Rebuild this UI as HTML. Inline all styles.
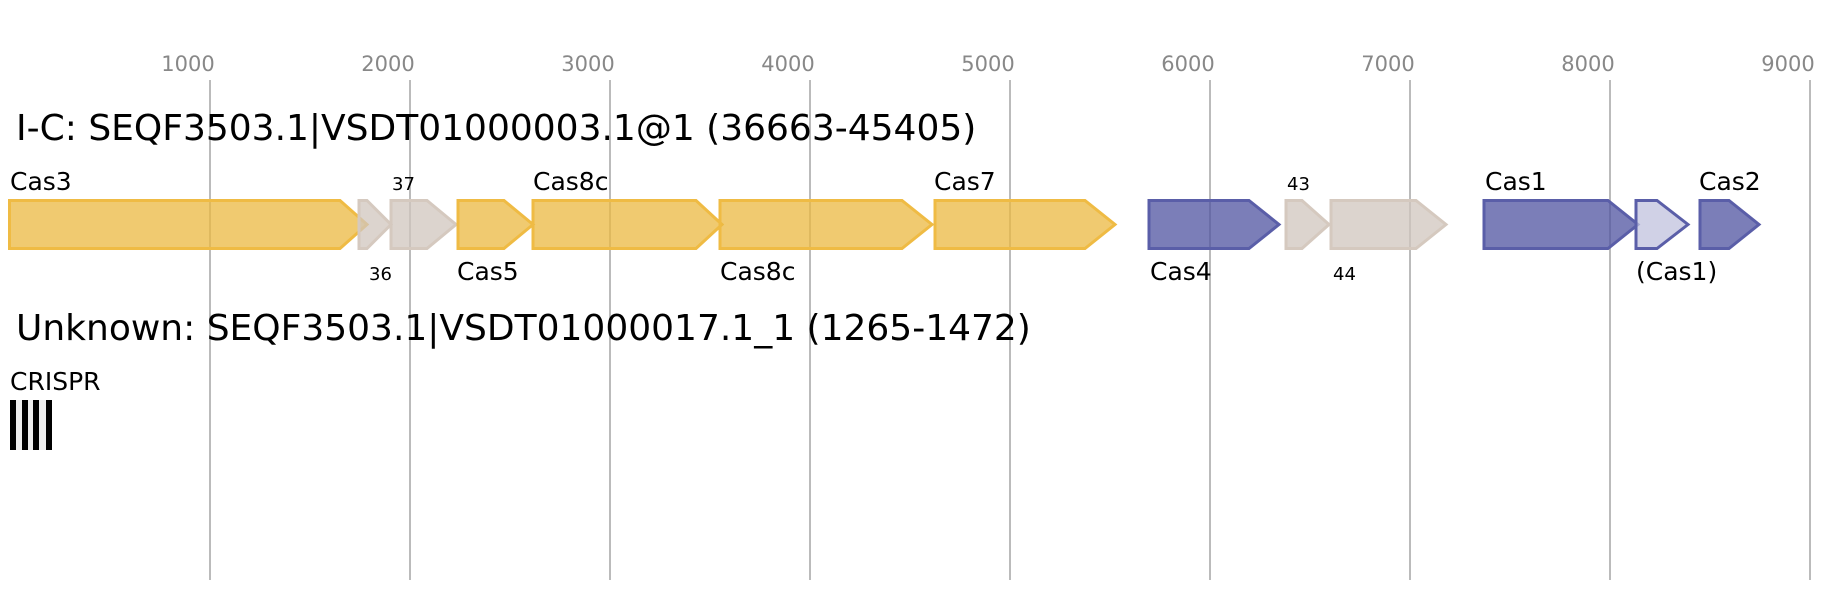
<!DOCTYPE html>
<html><head><meta charset="utf-8"><style>
html,body{margin:0;padding:0;background:#fff;}
svg{display:block;font-family:"DejaVu Sans","Liberation Sans",sans-serif;}
</style></head><body>
<svg width="1848" height="600" viewBox="0 0 1848 600" xmlns="http://www.w3.org/2000/svg">
<g stroke="#bbb" stroke-width="2">
<line x1="210" y1="80" x2="210" y2="580"/><line x1="410" y1="80" x2="410" y2="580"/>
<line x1="610" y1="80" x2="610" y2="580"/><line x1="810" y1="80" x2="810" y2="580"/>
<line x1="1010" y1="80" x2="1010" y2="580"/><line x1="1210" y1="80" x2="1210" y2="580"/>
<line x1="1410" y1="80" x2="1410" y2="580"/><line x1="1610" y1="80" x2="1610" y2="580"/>
<line x1="1810" y1="80" x2="1810" y2="580"/>
</g>
<g fill="#888" font-size="21" text-anchor="middle">
<text x="188" y="71">1000</text><text x="388" y="71">2000</text><text x="588" y="71">3000</text>
<text x="788" y="71">4000</text><text x="988" y="71">5000</text><text x="1188" y="71">6000</text>
<text x="1388" y="71">7000</text><text x="1588" y="71">8000</text><text x="1788" y="71">9000</text>
</g>
<text x="16" y="140" font-size="36">I-C: SEQF3503.1|VSDT01000003.1@1 (36663-45405)</text>
<text x="16" y="340" font-size="36">Unknown: SEQF3503.1|VSDT01000017.1_1 (1265-1472)</text>
<g stroke-width="3" stroke-linejoin="miter" fill-opacity="0.75">
<polygon points="9.5,200.5 340,200.5 367,224.5 340,248.5 9.5,248.5" fill="#ebb840" stroke="#efbb44"/>
<polygon points="359,200.5 367,200.5 391,224.5 367,248.5 359,248.5" fill="#d0c6bd" stroke="#d5c9bf"/>
<polygon points="391,200.5 427,200.5 456,224.5 427,248.5 391,248.5" fill="#d0c6bd" stroke="#d5c9bf"/>
<polygon points="458,200.5 504,200.5 533,224.5 504,248.5 458,248.5" fill="#ebb840" stroke="#efbb44"/>
<polygon points="533,200.5 696,200.5 722,224.5 696,248.5 533,248.5" fill="#ebb840" stroke="#efbb44"/>
<polygon points="720,200.5 902,200.5 932,224.5 902,248.5 720,248.5" fill="#ebb840" stroke="#efbb44"/>
<polygon points="935,200.5 1085,200.5 1115,224.5 1085,248.5 935,248.5" fill="#ebb840" stroke="#efbb44"/>
<polygon points="1149,200.5 1249,200.5 1279,224.5 1249,248.5 1149,248.5" fill="#4f53a0" stroke="#5a5ea8"/>
<polygon points="1286,200.5 1302,200.5 1329,224.5 1302,248.5 1286,248.5" fill="#d0c6bd" stroke="#d5c9bf"/>
<polygon points="1331,200.5 1416,200.5 1446,224.5 1416,248.5 1331,248.5" fill="#d0c6bd" stroke="#d5c9bf"/>
<polygon points="1484,200.5 1608,200.5 1638,224.5 1608,248.5 1484,248.5" fill="#4f53a0" stroke="#5a5ea8"/>
<polygon points="1636,200.5 1657,200.5 1688,224.5 1657,248.5 1636,248.5" fill="#c0c1dd" stroke="#5a5ea8"/>
<polygon points="1700,200.5 1729,200.5 1759,224.5 1729,248.5 1700,248.5" fill="#4f53a0" stroke="#5a5ea8"/>
</g>
<g font-size="25" fill="#000">
<text x="10" y="190">Cas3</text>
<text x="533" y="190">Cas8c</text>
<text x="934" y="190">Cas7</text>
<text x="1485" y="190">Cas1</text>
<text x="1699" y="190">Cas2</text>
<text x="457" y="280">Cas5</text>
<text x="720" y="280">Cas8c</text>
<text x="1150" y="280">Cas4</text>
<text x="1636" y="280">(Cas1)</text>
<text x="10" y="390">CRISPR</text>
</g>
<g font-size="18" fill="#000">
<text x="392" y="190">37</text>
<text x="1287" y="190">43</text>
<text x="369" y="280">36</text>
<text x="1333" y="280">44</text>
</g>
<rect x="10" y="400" width="42" height="50" fill="#eee"/>
<g fill="#000">
<rect x="10" y="400" width="6" height="50"/><rect x="22" y="400" width="6" height="50"/>
<rect x="33" y="400" width="6" height="50"/><rect x="46" y="400" width="6" height="50"/>
</g>
</svg>
</body></html>
